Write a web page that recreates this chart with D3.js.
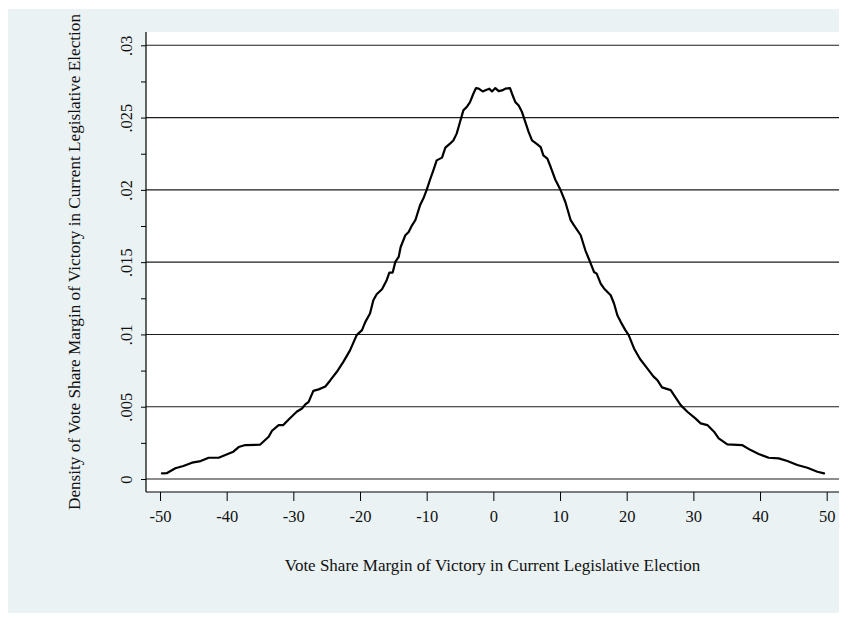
<!DOCTYPE html>
<html>
<head>
<meta charset="utf-8">
<script src="https://cdn.jsdelivr.net/npm/d3@7"></script>
<style>
  html, body { margin: 0; padding: 0; background: #ffffff; }
  svg { display: block; }
  text { font-family: "Liberation Serif", "Times New Roman", Times, serif; fill: #111; }
</style>
</head>
<body>
<svg id="chart" width="850" height="624"></svg>
<script>
// Kernel density estimate of the vote-share margin (percentage points)
const margins = [
  -49.7, -49.0, -47.7, -46.5, -45.2, -43.9, -42.7, -41.2, -40.2, -39.0,
  -38.2, -37.2, -35.0, -33.7, -33.2, -32.2, -31.5, -30.7, -29.5, -28.7,
  -28.2, -27.7, -27.0, -26.2, -25.2, -24.5, -23.5, -22.5, -21.5, -20.5,
  -19.7, -19.2, -18.5, -18.0, -17.5, -16.7, -16.0, -15.6, -15.1, -14.7,
  -14.2, -13.9, -13.2, -12.7, -12.2, -11.7, -11.0, -10.5, -10.0, -9.5,
  -9.0, -8.5, -7.7, -7.2, -6.5, -6.0, -5.5, -5.0, -4.5, -4.0,
  -3.5, -3.0, -2.6, -2.2, -1.6, -1.0, -0.6, -0.2, 0.3, 0.8,
  1.3, 1.8, 2.5, 2.8, 3.3, 3.8, 4.3, 4.8, 5.3, 5.8,
  6.6, 7.1, 7.5, 8.1, 8.6, 9.3, 10.1, 10.8, 11.6, 12.1,
  13.1, 13.8, 14.3, 14.8, 15.1, 15.5, 16.1, 16.6, 17.6, 18.1,
  18.6, 19.1, 19.8, 20.3, 21.1, 22.0, 23.0, 24.0, 24.6, 25.3,
  26.6, 27.6, 28.1, 29.1, 30.3, 31.1, 32.1, 33.1, 33.8, 35.1,
  37.3, 38.6, 39.8, 41.3, 42.8, 44.1, 45.6, 47.1, 48.6, 49.6
];
const density = [
  0.00039, 0.00040, 0.00074, 0.00090, 0.00113, 0.00124, 0.00147, 0.00147, 0.00166, 0.00189,
  0.00221, 0.00235, 0.00237, 0.00292, 0.00334, 0.00373, 0.00373, 0.00412, 0.00465, 0.00488,
  0.00516, 0.00534, 0.00610, 0.00620, 0.00640, 0.00680, 0.00740, 0.00810, 0.00890, 0.00995,
  0.01030, 0.01087, 0.01145, 0.01237, 0.01278, 0.01313, 0.01375, 0.01428, 0.01428, 0.01502,
  0.01536, 0.01605, 0.01686, 0.01709, 0.01755, 0.01790, 0.01893, 0.01940, 0.02000, 0.02070,
  0.02135, 0.02204, 0.02223, 0.02292, 0.02320, 0.02342, 0.02389, 0.02469, 0.02550, 0.02573,
  0.02607, 0.02665, 0.02704, 0.02700, 0.02681, 0.02693, 0.02700, 0.02681, 0.02704, 0.02683,
  0.02688, 0.02700, 0.02704, 0.02665, 0.02607, 0.02584, 0.02538, 0.02469, 0.02400, 0.02342,
  0.02315, 0.02296, 0.02239, 0.02216, 0.02158, 0.02070, 0.01997, 0.01916, 0.01790, 0.01755,
  0.01686, 0.01582, 0.01525, 0.01467, 0.01432, 0.01421, 0.01352, 0.01318, 0.01271, 0.01214,
  0.01133, 0.01087, 0.01030, 0.00995, 0.00903, 0.00830, 0.00770, 0.00710, 0.00684, 0.00634,
  0.00615, 0.00546, 0.00511, 0.00465, 0.00419, 0.00385, 0.00373, 0.00327, 0.00281, 0.00240,
  0.00235, 0.00200, 0.00173, 0.00147, 0.00143, 0.00124, 0.00097, 0.00078, 0.00050, 0.00039
];

const xTicks = [-50, -40, -30, -20, -10, 0, 10, 20, 30, 40, 50];
const yTicks = [0, 0.005, 0.01, 0.015, 0.02, 0.025, 0.03];
const yTickLabels = ["0", ".005", ".01", ".015", ".02", ".025", ".03"];
const yMinorTicks = [0.0025, 0.0075, 0.0125, 0.0175, 0.0225, 0.0275];

const xTitle = "Vote Share Margin of Victory in Current Legislative Election";
const yTitle = "Density of Vote Share Margin of Victory in Current Legislative Election";

const svg = d3.select("#chart");

// Graph region and plot region
const panel = { left: 8, top: 9, right: 839, bottom: 613 };
const plot = { left: 146, top: 32, right: 839, bottom: 492 };

svg.append("rect")
  .attr("x", panel.left).attr("y", panel.top)
  .attr("width", panel.right - panel.left).attr("height", panel.bottom - panel.top)
  .attr("fill", "#eaf2f3");

svg.append("rect")
  .attr("x", plot.left).attr("y", plot.top)
  .attr("width", plot.right - plot.left).attr("height", plot.bottom - plot.top)
  .attr("fill", "#ffffff");

const x = d3.scaleLinear().domain([-50, 50]).range([160, 826.7]);
const y = d3.scaleLinear().domain([0, 0.03]).range([479, 45.3]);

// Horizontal gridlines at the major y ticks
svg.append("g")
  .selectAll("line")
  .data(yTicks)
  .join("line")
  .attr("x1", plot.left).attr("x2", plot.right)
  .attr("y1", d => y(d)).attr("y2", d => y(d))
  .attr("stroke", "#1c1c1c")
  .attr("stroke-width", 1.1);

// Axis lines
svg.append("line")
  .attr("x1", plot.left).attr("x2", plot.right)
  .attr("y1", plot.bottom).attr("y2", plot.bottom)
  .attr("stroke", "#000").attr("stroke-width", 1.2);
svg.append("line")
  .attr("x1", plot.left).attr("x2", plot.left)
  .attr("y1", plot.top).attr("y2", plot.bottom)
  .attr("stroke", "#000").attr("stroke-width", 1.2);

// X axis
const xAxis = svg.append("g")
  .attr("transform", `translate(0,${plot.bottom})`)
  .call(d3.axisBottom(x).tickValues(xTicks).tickSize(9).tickSizeOuter(0)
    .tickFormat(d3.format("d")));
xAxis.select(".domain").remove();
xAxis.selectAll(".tick line").attr("stroke", "#000").attr("stroke-width", 1);
xAxis.selectAll(".tick text")
  .attr("y", 24).attr("dy", "0.35em")
  .style("font-size", "16.5px")
  .style("font-family", "\"Liberation Serif\", \"Times New Roman\", serif")
  .attr("fill", "#111")
  .text(d => d < 0 ? "-" + Math.abs(d) : String(d));

// Y axis (major ticks with rotated labels)
const yAxis = svg.append("g")
  .attr("transform", `translate(${plot.left},0)`)
  .call(d3.axisLeft(y).tickValues(yTicks).tickSize(5).tickSizeOuter(0)
    .tickFormat((d, i) => yTickLabels[i]));
yAxis.select(".domain").remove();
yAxis.selectAll(".tick line").attr("stroke", "#000").attr("stroke-width", 1);
yAxis.selectAll(".tick text")
  .attr("x", 0).attr("y", -20).attr("dy", "0.35em")
  .attr("transform", "rotate(-90)")
  .attr("text-anchor", "middle")
  .style("font-size", "16.5px")
  .style("font-family", "\"Liberation Serif\", \"Times New Roman\", serif")
  .attr("fill", "#111");

// Y axis minor ticks
const yMinor = svg.append("g")
  .attr("transform", `translate(${plot.left},0)`)
  .call(d3.axisLeft(y).tickValues(yMinorTicks).tickSize(5).tickSizeOuter(0).tickFormat(""));
yMinor.select(".domain").remove();
yMinor.selectAll(".tick line").attr("stroke", "#000").attr("stroke-width", 1);

// Density curve
const points = margins.map((m, i) => [m, density[i]]);
svg.append("path")
  .datum(points)
  .attr("fill", "none")
  .attr("stroke", "#000")
  .attr("stroke-width", 2.2)
  .attr("stroke-linejoin", "round")
  .attr("stroke-linecap", "round")
  .attr("d", d3.line().x(d => x(d[0])).y(d => y(d[1])).curve(d3.curveLinear));

// Axis titles
svg.append("text")
  .attr("x", (plot.left + plot.right) / 2)
  .attr("y", 565)
  .attr("dy", "0.35em")
  .attr("text-anchor", "middle")
  .style("font-size", "17px")
  .text(xTitle);

svg.append("text")
  .attr("transform", `translate(73.5,${(plot.top + plot.bottom) / 2}) rotate(-90)`)
  .attr("dy", "0.35em")
  .attr("text-anchor", "middle")
  .style("font-size", "17.2px")
  .text(yTitle);
</script>
</body>
</html>
